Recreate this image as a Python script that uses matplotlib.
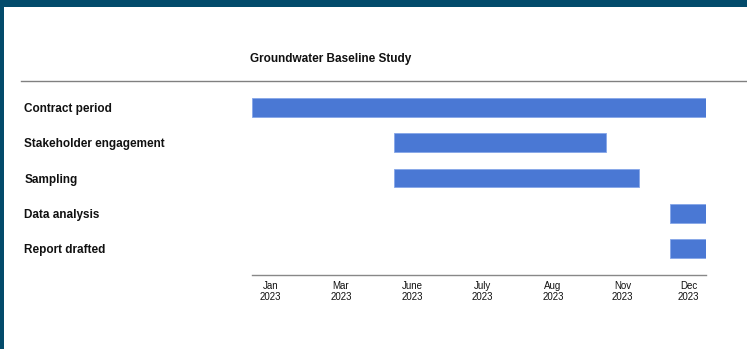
import matplotlib
matplotlib.use("Agg")
import matplotlib.pyplot as plt
from matplotlib.patches import Rectangle
from matplotlib.lines import Line2D

plt.rcParams['font.family'] = ['Liberation Sans', 'DejaVu Sans']

title = "Groundwater Baseline Study"
tasks = ["Contract period", "Stakeholder engagement", "Sampling", "Data analysis", "Report drafted"]
# days from project start
starts = [0, 114, 114, 336, 336]
ends = [365, 285, 311, 365, 365]
tick_pos = [14.7, 71.6, 128.6, 185.4, 242.0, 298.0, 351.0]
tick_labels = ["Jan\n2023", "Mar\n2023", "June\n2023", "July\n2023", "Aug\n2023", "Nov\n2023", "Dec\n2023"]

W, H = 747, 349
fig = plt.figure(figsize=(W / 100, H / 100), dpi=100)
fig.patch.set_facecolor('#034b6b')
fig.add_artist(Rectangle((3.5 / W, 0), 1, (H - 7) / H, transform=fig.transFigure,
                         facecolor='white', edgecolor='none', zorder=0))

ax = fig.add_axes([252 / W, (H - 275) / H, (706 - 252) / W, (275 - 81) / H])
ax.set_facecolor('none')

ys = list(range(len(tasks)))
ax.barh(ys, [e - s for s, e in zip(starts, ends)], left=starts, height=0.54,
        color='#4a78d4', edgecolor='#86a6e8', linewidth=0.6)

ax.set_xlim(0, 365)
ax.set_ylim(4.766, -0.766)

ax.set_yticks(ys)
ax.set_yticklabels(tasks, ha='left', fontsize=8.5, fontweight='bold', color='#111111')
ax.tick_params(axis='y', length=0, pad=164)

ax.set_xticks(tick_pos)
ax.set_xticklabels(tick_labels, fontsize=7, color='#111111', linespacing=1.15)
ax.tick_params(axis='x', length=0, pad=4)

for s in ['top', 'right', 'left']:
    ax.spines[s].set_visible(False)
ax.spines['bottom'].set_color('#888888')
ax.spines['bottom'].set_linewidth(1.0)

fig.add_artist(Line2D([21 / W, 1], [(H - 81) / H, (H - 81) / H], transform=fig.transFigure,
                      color='#808080', linewidth=1.0))

fig.text(250 / W, (H - 62) / H, title, ha='left', va='baseline', fontsize=8.5,
         fontweight='bold', color='#111111')

fig.savefig('out.png', dpi=100, facecolor=fig.get_facecolor())
